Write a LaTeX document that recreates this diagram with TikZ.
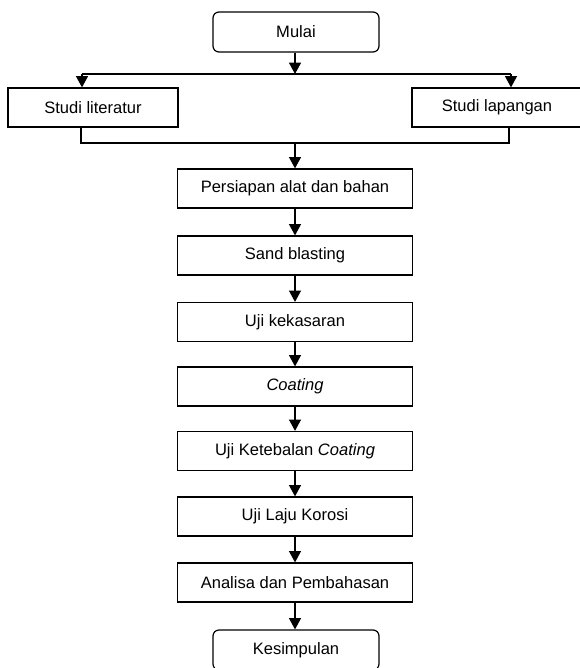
\documentclass[tikz,border=0pt]{standalone}
\usepackage{fontspec}
\setmainfont{Liberation Sans}
\usetikzlibrary{shapes,arrows.meta}

\begin{document}
\begin{tikzpicture}[x=0.75pt,y=-0.75pt,line width=0.9pt,draw=black!100]
	\def \colx{295}
	\def \splitht{74}
	\def \sideht{107.5}
	\def \mergeht{143}
	\tikzstyle{s-node}=[draw,rounded corners=4.5pt,text centered,inner sep=0pt,minimum width=124.5pt,minimum height=30pt,font=\fontsize{12.4}{14}\selectfont]
	\tikzstyle{p-node}=[draw,text centered,inner sep=0pt,minimum width=176.25pt,minimum height=29.25pt,font=\fontsize{12.4}{14}\selectfont]
	\tikzstyle{b-node}=[draw,text centered,inner sep=0pt,minimum width=127.5pt,minimum height=29.25pt,font=\fontsize{12.4}{14}\selectfont]
	\tikzstyle{flow}=[-{Triangle[width=9pt,length=8.5pt]}]
	\useasboundingbox (0,0) rectangle (579,668);

	% start
	\node[s-node] 	(mulai)	at (296,32)		{Mulai};

	% two studies
	\node[b-node] 	(lit)	at (93,\sideht)		{Studi literatur};
	\node[b-node] 	(lap)	at (497,\sideht)	{Studi lapangan};

	% main column
	\node[p-node] 	(prep)	at (\colx,188.5)	{Persiapan alat dan bahan};
	\node[p-node] 	(sand)	at (\colx,255.5)	{Sand blasting};
	\node[p-node] 	(kasar)	at (\colx,322)		{Uji kekasaran};
	\node[p-node] 	(coat)	at (\colx,386.5)	{\textit{Coating}};
	\node[p-node] 	(tebal)	at (\colx,451)		{Uji Ketebalan \textit{Coating}};
	\node[p-node] 	(laju)	at (\colx,516.5)	{Uji Laju Korosi};
	\node[p-node] 	(bahas)	at (\colx,582.5)	{Analisa dan Pembahasan};
	\node[s-node] 	(simpul)	at (296,650)	{Kesimpulan};

	% branch points
	\coordinate (split)	at (\colx,\splitht);
	\coordinate (litin)	at (82,\splitht);
	\coordinate (lapin)	at (511,\splitht);
	\coordinate (litout)	at (81,\mergeht);
	\coordinate (lapout)	at (509,\mergeht);
	\coordinate (merge)	at (\colx,\mergeht);

	\draw[flow] (mulai.south -| split) -- (split);
	\draw (litin) -- (lapin);
	\draw[flow] (litin) -- (litin |- lit.north);
	\draw[flow] (lapin) -- (lapin |- lap.north);
	\draw (lit.south -| litout) -- (litout) -- (lapout) -- (lap.south -| lapout);
	\draw[flow] (merge) -- (prep);

	\path[flow]
		(prep)	edge	(sand)
		(sand)	edge	(kasar)
		(kasar)	edge	(coat)
		%
		(coat)	edge	(tebal)
		(tebal)	edge	(laju)
		(laju)	edge	(bahas)
		%
		(bahas)	edge	(simpul.north -| bahas.south);
\end{tikzpicture}
\end{document}
